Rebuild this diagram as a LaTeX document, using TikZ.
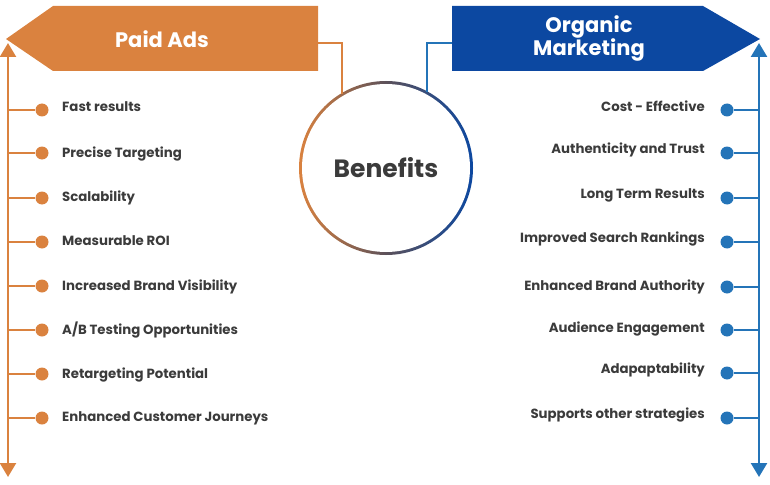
\documentclass[tikz,border=0pt]{standalone}
\usepackage{fontspec}
\setmainfont{Poppins}
\usepackage{xcolor}
\usepackage{tikz}
\usetikzlibrary{arrows.meta,positioning,calc}
\definecolor{AdOrange}{HTML}{DA823F}
\definecolor{OrgBlue}{HTML}{0C48A1}
\definecolor{OrgLine}{HTML}{2474B8}
\definecolor{TextGrey}{HTML}{3B3B3B}

\begin{document}
\begin{tikzpicture}[
            x=1pt, y=-1pt,
            font=\bfseries,
            item/.style={text=TextGrey, inner sep=0pt, font=\fontsize{13.3}{15}\selectfont\bfseries},
            dotL/.style={circle, fill=AdOrange, inner sep=0pt, minimum size=13pt},
            dotR/.style={circle, fill=OrgLine, inner sep=0pt, minimum size=13pt},
            head/.style={text=white, align=center, font=\fontsize{21}{23}\selectfont\bfseries},
            spineL/.style={{Triangle[width=16pt,length=14pt]}-{Triangle[width=16pt,length=14pt]}, line width=2.5pt, draw=AdOrange},
            spineR/.style={{Triangle[width=16pt,length=14pt]}-{Triangle[width=16pt,length=14pt]}, line width=2.5pt, draw=OrgLine},
            linkL/.style={line width=2.5pt, draw=AdOrange},
            linkR/.style={line width=2.5pt, draw=OrgLine},
        ]
        \useasboundingbox (0,0) rectangle (770,484);

        % banners
        \fill[AdOrange] (6,39) -- (53,6) -- (318,6) -- (318,71) -- (53,71) -- cycle;
        \node[head] (paid) at (162,39) {Paid Ads};
        \fill[OrgBlue] (452,6) -- (703,6) -- (760,39) -- (703,71) -- (452,71) -- cycle;
        \node[head] (organic) at (589,38) {Organic\\Marketing};

        % centre ring
        \shade[left color=AdOrange, right color=OrgBlue, middle color=OrgBlue!50!AdOrange!80!black] (386,168) circle (87);
        \node[circle, fill=white, minimum size=168pt, inner sep=0pt] (ben) at (386,168) {};
        \node[text=TextGrey, font=\fontsize{25}{28}\selectfont\bfseries] at (ben.center) {Benefits};

        \coordinate (paidend) at (318,43);
        \coordinate (orgend) at (452,43);
        \draw[linkL] (paidend) -- (342,43) -- (342,94);
        \draw[linkR] (orgend) -- (427,43) -- (427,92);

        % left side
        \coordinate (topL) at (8,43);
        \coordinate (botL) at (8,477);
        \draw[spineL] (topL) -- (botL);
        \foreach \n/\d/\b/\txt in {a/110/112/Fast results, b/153/157/Precise Targeting, c/198/201/Scalability,
            d/242/245/Measurable ROI, e/286/290/Increased Brand Visibility, f/330/334/{A/B Testing Opportunities},
            g/374/378/Retargeting Potential, h/418/421/Enhanced Customer Journeys} {
            \node[dotL] (l\n) at (42,\d) {};
            \draw[linkL] (8,\d) -- (l\n);
            \node[item, anchor=base west] (tl\n) at (62,\b) {\txt};
        }

        % right side
        \coordinate (topR) at (759,43);
        \coordinate (botR) at (759,477);
        \draw[spineR] (topR) -- (botR);
        \foreach \n/\d/\b/\txt in {a/110/112/Cost - Effective, b/153/153/Authenticity and Trust, c/198/198/Long Term Results,
            d/242/242/Improved Search Rankings, e/287/290/Enhanced Brand Authority, f/330/332/Audience Engagement,
            g/373/373/Adapaptability, h/418/418/Supports other strategies} {
            \node[dotR] (r\n) at (727,\d) {};
            \draw[linkR] (759,\d) -- (r\n);
            \node[item, anchor=base east] (tr\n) at (705,\b) {\txt};
        }
    \end{tikzpicture}
\end{document}
